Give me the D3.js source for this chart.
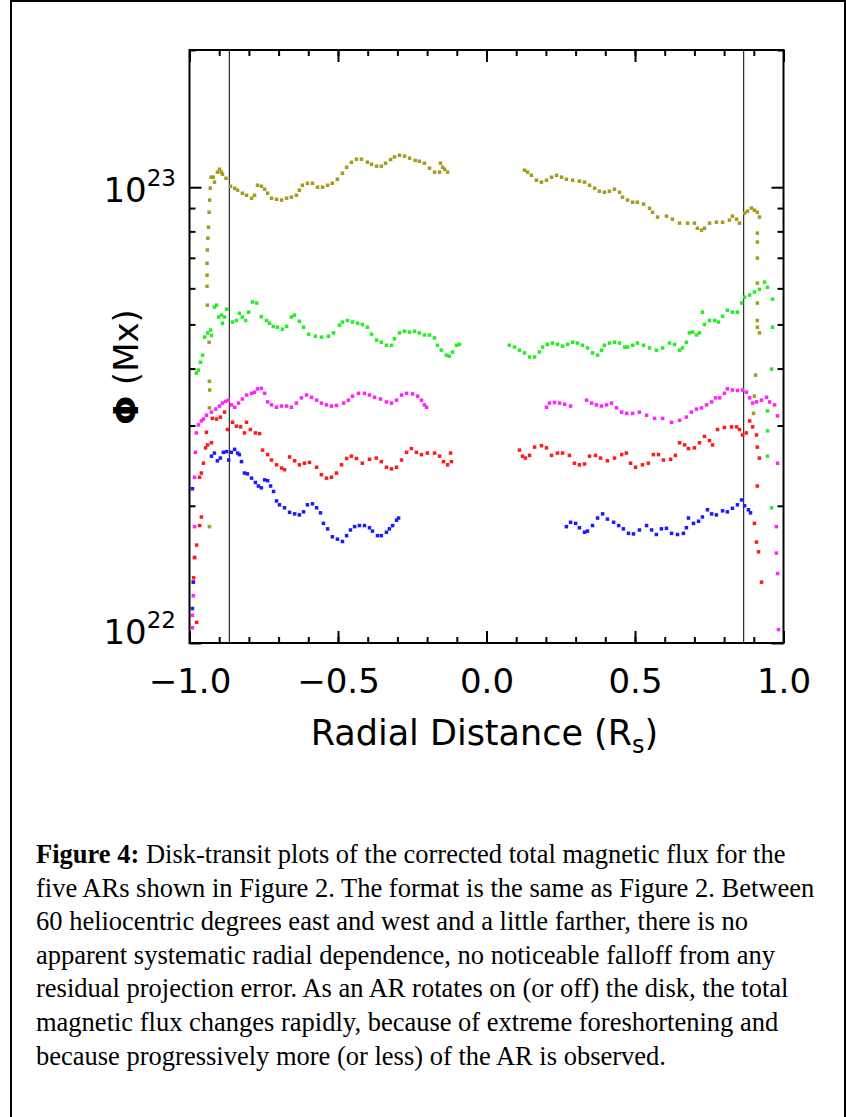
<!DOCTYPE html>
<html>
<head>
<meta charset="utf-8">
<script src="https://cdn.jsdelivr.net/npm/d3@7"></script>
<style>
  body { margin: 0; background: #fff; }
</style>
</head>
<body>
<svg id="fig"></svg>
<script>
// flux in units of 1e22 Mx, x in solar radii
const olive = [
  [-0.933,1.80],[-0.933,3.28],[-0.932,3.59],[-0.933,3.75],[-0.934,4.57],[-0.940,5.51],[-0.941,6.06],[-0.941,6.41],
  [-0.941,6.81],[-0.940,7.28],[-0.938,7.73],[-0.936,8.17],[-0.934,8.81],[-0.932,9.37],[-0.930,9.95],[-0.927,10.52],
  [-0.920,10.52],[-0.916,10.26],[-0.906,10.79],[-0.899,10.95],[-0.893,10.79],[-0.889,10.68],[-0.877,10.46],
  [-0.862,10.05],[-0.848,9.95],[-0.838,9.85],[-0.822,9.70],[-0.808,9.60],[-0.791,9.46],[-0.781,9.60],[-0.771,10.10],
  [-0.758,10.05],[-0.747,9.90],[-0.737,9.70],[-0.724,9.46],[-0.707,9.41],[-0.690,9.37],[-0.673,9.46],[-0.657,9.51],
  [-0.640,9.60],[-0.630,9.85],[-0.620,10.10],[-0.603,10.20],[-0.586,10.20],[-0.569,10.00],[-0.552,10.00],[-0.535,10.10],
  [-0.519,10.20],[-0.502,10.41],[-0.485,10.73],[-0.471,11.06],[-0.455,11.34],[-0.438,11.52],[-0.421,11.52],[-0.401,11.35],
  [-0.387,11.23],[-0.370,11.12],[-0.354,11.12],[-0.340,11.29],[-0.323,11.50],[-0.310,11.65],[-0.293,11.75],[-0.276,11.70],
  [-0.259,11.58],[-0.240,11.45],[-0.226,11.40],[-0.209,11.29],[-0.192,11.01],[-0.175,10.79],[-0.158,10.79],[-0.155,11.29],
  [-0.148,11.06],[-0.141,10.95],[-0.131,10.79],
  [0.128,10.90],[0.138,10.79],[0.151,10.62],[0.168,10.36],[0.185,10.26],[0.202,10.36],[0.219,10.52],[0.236,10.62],
  [0.253,10.52],[0.269,10.41],[0.290,10.36],[0.313,10.31],[0.330,10.26],[0.347,10.10],[0.364,9.95],[0.380,9.80],
  [0.397,9.75],[0.414,9.80],[0.431,9.90],[0.448,9.75],[0.458,9.51],[0.475,9.37],[0.492,9.27],[0.508,9.27],
  [0.529,9.18],[0.549,8.99],[0.559,8.81],[0.576,8.60],[0.606,8.64],[0.626,8.51],[0.650,8.34],[0.677,8.34],
  [0.700,8.34],[0.710,8.13],[0.724,8.05],[0.734,8.13],[0.751,8.34],[0.774,8.38],[0.795,8.38],[0.818,8.47],
  [0.828,8.64],[0.842,8.51],[0.852,8.34],[0.869,8.77],[0.879,8.86],[0.892,9.00],[0.902,8.90],[0.912,8.81],
  [0.919,8.60],[0.912,7.93],[0.912,7.58],[0.912,6.99],[0.912,6.16],[0.912,5.57],[0.912,5.10],[0.912,4.93],
  [0.919,4.79],[0.906,3.87],[0.902,3.48],[0.899,3.19]
];

const green = [
  [-0.977,3.91],[-0.970,3.97],[-0.963,4.13],[-0.956,4.28],[-0.949,4.69],[-0.939,4.79],[-0.929,4.86],[-0.926,4.73],
  [-0.916,5.46],[-0.909,5.51],[-0.902,5.19],[-0.892,5.24],[-0.889,5.03],[-0.882,5.19],[-0.875,5.40],
  [-0.855,5.06],[-0.842,5.10],[-0.832,5.29],[-0.822,5.19],[-0.811,5.10],[-0.801,5.32],[-0.788,5.60],[-0.774,5.57],
  [-0.758,5.20],[-0.741,5.10],[-0.731,5.03],[-0.718,4.95],[-0.704,4.93],[-0.687,4.88],[-0.673,4.95],[-0.657,5.19],
  [-0.647,5.24],[-0.630,5.08],[-0.616,4.93],[-0.599,4.76],[-0.576,4.71],[-0.556,4.69],[-0.532,4.71],[-0.515,4.79],
  [-0.495,4.98],[-0.485,5.06],[-0.468,5.10],[-0.451,5.06],[-0.434,5.03],[-0.418,5.00],[-0.401,4.93],[-0.387,4.76],
  [-0.370,4.62],[-0.354,4.57],[-0.337,4.50],[-0.320,4.50],[-0.310,4.65],[-0.293,4.79],[-0.276,4.83],[-0.259,4.81],
  [-0.242,4.83],[-0.226,4.79],[-0.209,4.74],[-0.192,4.74],[-0.175,4.67],[-0.165,4.50],[-0.152,4.39],[-0.135,4.28],
  [-0.125,4.26],[-0.114,4.35],[-0.101,4.50],[-0.091,4.52],
  [0.077,4.50],[0.094,4.46],[0.111,4.39],[0.128,4.33],[0.145,4.24],[0.162,4.24],[0.178,4.35],[0.189,4.46],
  [0.205,4.52],[0.222,4.55],[0.239,4.52],[0.256,4.48],[0.273,4.52],[0.290,4.57],[0.306,4.55],[0.323,4.50],
  [0.340,4.44],[0.357,4.33],[0.374,4.28],[0.387,4.39],[0.397,4.50],[0.414,4.55],[0.431,4.57],[0.448,4.55],
  [0.465,4.46],[0.475,4.46],[0.492,4.50],[0.508,4.55],[0.529,4.50],[0.549,4.44],[0.572,4.39],[0.593,4.44],
  [0.616,4.55],[0.633,4.52],[0.650,4.39],[0.660,4.44],[0.673,4.57],[0.683,4.79],[0.694,4.81],[0.707,4.74],
  [0.717,4.79],[0.727,5.32],[0.734,5.00],[0.751,5.10],[0.768,5.10],[0.781,5.06],[0.795,5.21],[0.811,5.37],
  [0.828,5.32],[0.845,5.32],[0.859,5.57],[0.869,5.74],[0.886,5.80],[0.902,5.89],[0.919,5.97],[0.936,6.19],
  [0.946,6.03],[0.963,5.68],[0.963,4.93],[0.960,3.99],[0.946,3.23],[0.946,2.92],[0.946,2.57],[0.960,1.98]
];

const magenta = [
  [-0.990,1.08],[-0.990,1.15],[-0.987,1.27],[-0.987,1.36],[-0.983,1.54],[-0.983,1.80],[-0.983,2.31],[-0.980,2.62],
  [-0.977,2.89],[-0.970,3.01],[-0.960,3.07],[-0.953,3.10],[-0.943,3.16],[-0.926,3.21],[-0.912,3.26],[-0.899,3.31],
  [-0.889,3.36],[-0.879,3.39],[-0.869,3.41],[-0.859,3.33],[-0.848,3.29],[-0.835,3.36],[-0.822,3.43],[-0.808,3.50],
  [-0.791,3.53],[-0.781,3.55],[-0.771,3.61],[-0.758,3.62],[-0.747,3.53],[-0.737,3.38],[-0.724,3.33],[-0.707,3.29],
  [-0.690,3.31],[-0.673,3.31],[-0.657,3.29],[-0.640,3.36],[-0.623,3.45],[-0.606,3.50],[-0.589,3.46],[-0.572,3.41],
  [-0.556,3.36],[-0.539,3.33],[-0.522,3.31],[-0.505,3.32],[-0.481,3.36],[-0.465,3.41],[-0.451,3.48],[-0.431,3.53],
  [-0.411,3.53],[-0.394,3.50],[-0.377,3.46],[-0.357,3.43],[-0.337,3.38],[-0.320,3.36],[-0.303,3.41],[-0.286,3.50],
  [-0.269,3.53],[-0.249,3.52],[-0.232,3.48],[-0.219,3.41],[-0.209,3.33],[-0.202,3.29],
  [0.202,3.29],[0.212,3.36],[0.229,3.37],[0.246,3.36],[0.263,3.34],[0.283,3.31],
  [0.337,3.41],[0.354,3.36],[0.370,3.33],[0.387,3.31],[0.404,3.33],[0.421,3.36],[0.438,3.28],[0.455,3.21],
  [0.472,3.19],[0.492,3.19],[0.515,3.21],[0.539,3.16],[0.566,3.11],[0.593,3.11],[0.623,3.05],[0.650,3.08],
  [0.673,3.13],[0.690,3.21],[0.707,3.26],[0.724,3.28],[0.741,3.33],[0.758,3.38],[0.771,3.45],[0.785,3.45],
  [0.801,3.53],[0.811,3.61],[0.828,3.59],[0.845,3.58],[0.862,3.59],[0.875,3.55],[0.886,3.45],[0.896,3.36],
  [0.909,3.38],[0.926,3.41],[0.943,3.46],[0.953,3.38],[0.970,3.33],[0.980,3.15],[0.980,2.48],[0.976,1.80],
  [0.976,1.575],[0.980,1.42],[0.983,1.07]
];

const red = [
  [-0.976,1.11],[-0.986,1.39],[-0.983,1.54],[-0.976,1.64],[-0.966,1.81],[-0.960,1.89],[-0.966,2.31],[-0.960,2.36],
  [-0.953,2.48],[-0.946,2.68],[-0.939,2.72],[-0.943,2.90],[-0.926,2.75],[-0.923,3.11],[-0.909,3.10],[-0.896,3.13],
  [-0.882,3.21],[-0.872,2.94],[-0.855,3.05],[-0.842,2.99],[-0.828,2.98],[-0.815,2.89],[-0.808,3.05],[-0.795,2.94],
  [-0.778,2.89],[-0.764,2.88],[-0.754,2.65],[-0.737,2.59],[-0.724,2.52],[-0.707,2.46],[-0.690,2.42],[-0.680,2.40],
  [-0.663,2.56],[-0.646,2.51],[-0.630,2.46],[-0.613,2.48],[-0.596,2.49],[-0.572,2.43],[-0.556,2.34],[-0.539,2.30],
  [-0.522,2.31],[-0.505,2.36],[-0.488,2.46],[-0.471,2.54],[-0.455,2.57],[-0.438,2.54],[-0.418,2.48],[-0.394,2.53],
  [-0.371,2.545],[-0.354,2.50],[-0.337,2.43],[-0.320,2.41],[-0.303,2.43],[-0.286,2.52],[-0.269,2.62],[-0.253,2.67],
  [-0.236,2.62],[-0.219,2.59],[-0.199,2.61],[-0.175,2.61],[-0.158,2.57],[-0.145,2.50],[-0.131,2.46],[-0.121,2.61],
  [-0.118,2.50],
  [0.111,2.65],[0.121,2.57],[0.131,2.545],[0.145,2.58],[0.162,2.69],[0.185,2.71],[0.202,2.68],[0.219,2.58],
  [0.239,2.61],[0.256,2.61],[0.279,2.58],[0.296,2.48],[0.313,2.46],[0.330,2.47],[0.347,2.57],[0.367,2.58],
  [0.384,2.545],[0.407,2.51],[0.431,2.545],[0.455,2.59],[0.471,2.61],[0.485,2.48],[0.502,2.43],[0.525,2.46],
  [0.545,2.48],[0.562,2.59],[0.579,2.59],[0.596,2.52],[0.620,2.53],[0.636,2.58],[0.650,2.75],[0.667,2.72],
  [0.680,2.67],[0.700,2.68],[0.717,2.75],[0.734,2.84],[0.751,2.78],[0.761,2.72],[0.778,2.94],[0.801,2.97],
  [0.825,2.98],[0.842,2.98],[0.852,2.94],[0.862,2.86],[0.875,2.89],[0.886,3.07],[0.896,2.98],[0.909,2.86],
  [0.912,2.69],[0.919,2.545],[0.912,2.21],[0.902,1.83],[0.909,1.665],[0.916,1.585],[0.926,1.36]
];

const blue = [
  [-0.990,2.18],[-0.987,1.36],[-0.990,1.19],
  [-0.926,2.57],[-0.916,2.61],[-0.906,2.51],[-0.896,2.545],[-0.886,2.62],[-0.875,2.63],[-0.868,2.52],[-0.859,2.62],
  [-0.848,2.66],[-0.838,2.61],[-0.832,2.59],[-0.825,2.50],[-0.815,2.36],[-0.805,2.35],[-0.791,2.30],[-0.778,2.25],
  [-0.768,2.21],[-0.758,2.19],[-0.747,2.28],[-0.737,2.27],[-0.727,2.21],[-0.717,2.15],[-0.707,2.05],[-0.697,2.01],
  [-0.680,1.98],[-0.663,1.935],[-0.646,1.92],[-0.630,1.91],[-0.616,1.94],[-0.603,2.01],[-0.586,2.02],[-0.572,1.98],
  [-0.559,1.93],[-0.549,1.83],[-0.535,1.78],[-0.519,1.71],[-0.502,1.69],[-0.485,1.67],[-0.471,1.72],[-0.458,1.77],
  [-0.444,1.80],[-0.428,1.81],[-0.411,1.81],[-0.394,1.79],[-0.384,1.76],[-0.367,1.72],[-0.354,1.72],[-0.337,1.75],
  [-0.327,1.78],[-0.316,1.81],[-0.303,1.86],[-0.296,1.88],
  [0.269,1.80],[0.283,1.84],[0.300,1.83],[0.313,1.79],[0.330,1.75],[0.340,1.76],[0.357,1.81],[0.374,1.88],
  [0.391,1.92],[0.407,1.87],[0.428,1.84],[0.445,1.81],[0.461,1.78],[0.478,1.74],[0.495,1.735],[0.515,1.77],
  [0.539,1.81],[0.556,1.77],[0.572,1.73],[0.589,1.78],[0.606,1.785],[0.623,1.74],[0.643,1.73],[0.663,1.74],
  [0.673,1.79],[0.680,1.88],[0.697,1.83],[0.714,1.85],[0.727,1.89],[0.744,1.96],[0.758,1.92],[0.774,1.91],
  [0.795,1.95],[0.811,1.94],[0.828,1.975],[0.845,2.01],[0.859,2.06],[0.869,2.00],[0.882,1.96],[0.889,1.93]
];

const seriesColors = ["#a39b1e", "#22ee22", "#ff22ff", "#ff1a1a", "#1a1aff"];
const xMajor = [-1, -0.5, 0, 0.5, 1];
const xMinor = d3.range(-10, 11).map(i => i / 10);
const yMajor = [1e22, 1e23];
const yMinor = [2e22, 3e22, 4e22, 5e22, 6e22, 7e22, 8e22, 9e22, 2e23];
const limbLines = [-0.866, 0.866];   // 60 degrees east / west

const captionLines = [
  " Disk-transit plots of the corrected total magnetic flux for the",
  "five ARs shown in Figure 2. The format is the same as Figure 2. Between",
  "60 heliocentric degrees east and west and a little farther, there is no",
  "apparent systematic radial dependence, no noticeable falloff from any",
  "residual projection error. As an AR rotates on (or off) the disk, the total",
  "magnetic flux changes rapidly, because of extreme foreshortening and",
  "because progressively more (or less) of the AR is observed."
];

const W = 846, H = 1117;
const FONT = "'DejaVu Sans', sans-serif";

const svg = d3.select("#fig").attr("width", W).attr("height", H);
svg.append("rect").attr("width", W).attr("height", H).attr("fill", "#fff");

// outer border of the figure (open at the bottom)
svg.append("path")
  .attr("d", "M11,1117 V1 H845 V1117")
  .attr("fill", "none").attr("stroke", "#000").attr("stroke-width", 2);

const x = d3.scaleLinear().domain([-1, 1]).range([189.5, 783.5]);
const y = d3.scaleLog().domain([1e22, 2e23]).range([643, 50]);

const plot = svg.append("g");

// limb lines
plot.selectAll(".limb")
  .data(limbLines)
  .join("line")
   .attr("class", "limb")
   .attr("x1", d => x(d)).attr("x2", d => x(d))
   .attr("y1", y.range()[1]).attr("y2", y.range()[0])
   .attr("stroke", "#000").attr("stroke-width", 1);

// data points
[olive, green, magenta, red, blue].forEach((pts, i) => {
  plot.append("g")
    .selectAll("rect")
    .data(pts)
    .join("rect")
     .attr("x", d => x(d[0]) - 1.75)
     .attr("y", d => y(d[1] * 1e22) - 1.75)
     .attr("width", 3.5).attr("height", 3.5)
     .attr("fill", seriesColors[i]);
});

// axes (ticks inward)
const fmt = d3.format(".1f");
const styleAxis = g => {
  g.select(".domain").remove();
  g.selectAll(".tick line").attr("stroke", "#000").attr("stroke-width", 2);
};

svg.append("g").attr("transform", `translate(0,${y.range()[0]})`)
  .call(d3.axisBottom(x).tickValues(xMinor).tickSize(-6).tickFormat(""))
  .call(styleAxis);
svg.append("g").attr("transform", `translate(0,${y.range()[0]})`)
  .call(d3.axisBottom(x).tickValues(xMajor).tickSize(-12).tickPadding(26).tickFormat(fmt))
  .call(styleAxis)
  .call(g => g.selectAll("text").attr("font-family", FONT).attr("font-size", 34).attr("fill", "#000"));

svg.append("g").attr("transform", `translate(0,${y.range()[1]})`)
  .call(d3.axisTop(x).tickValues(xMinor).tickSize(-6).tickFormat(""))
  .call(styleAxis);
svg.append("g").attr("transform", `translate(0,${y.range()[1]})`)
  .call(d3.axisTop(x).tickValues(xMajor).tickSize(-12).tickFormat(""))
  .call(styleAxis);

[["axisLeft", x.range()[0]], ["axisRight", x.range()[1]]].forEach(([fn, px]) => {
  svg.append("g").attr("transform", `translate(${px},0)`)
    .call(d3[fn](y).tickValues(yMinor).tickSize(-6).tickFormat(""))
    .call(styleAxis);
  svg.append("g").attr("transform", `translate(${px},0)`)
    .call(d3[fn](y).tickValues(yMajor).tickSize(-12).tickFormat(""))
    .call(styleAxis);
});

// frame
svg.append("rect")
  .attr("x", x.range()[0]).attr("y", y.range()[1])
  .attr("width", x.range()[1] - x.range()[0]).attr("height", y.range()[0] - y.range()[1])
  .attr("fill", "none").attr("stroke", "#000").attr("stroke-width", 2);

// y tick labels 10^n
const yLab = svg.append("g").attr("font-family", FONT).attr("fill", "#000");
yMajor.forEach(v => {
  const t = yLab.append("text")
    .attr("x", 176)
    .attr("y", Math.min(y(v) + 15, y.range()[0] + 1))
    .attr("text-anchor", "end")
    .attr("font-size", 34);
  t.append("tspan").text("10");
  t.append("tspan").attr("dy", -16).attr("font-size", 23).text(Math.round(Math.log10(v)));
});

// axis titles
const xt = svg.append("text")
  .attr("x", (x.range()[0] + x.range()[1]) / 2 - 2).attr("y", 745)
  .attr("text-anchor", "middle")
  .attr("font-family", FONT).attr("font-size", 35).attr("fill", "#000");
xt.append("tspan").text("Radial Distance (R");
xt.append("tspan").attr("font-size", 24).attr("dy", 8).text("s");
xt.append("tspan").attr("dy", -8).text(")");

const yt = svg.append("text")
  .attr("transform", "translate(126,367) rotate(-90)")
  .attr("text-anchor", "middle").attr("dominant-baseline", "central")
  .attr("font-family", FONT).attr("font-size", 34).attr("fill", "#000");
yt.append("tspan").attr("font-weight", "bold").text("\u03A6");
yt.append("tspan").text(" (Mx)");

// caption
const cap = svg.append("g")
  .attr("font-family", "'Liberation Serif', 'Times New Roman', serif")
  .attr("font-size", 26.5).attr("fill", "#000");
captionLines.forEach((line, i) => {
  const t = cap.append("text").attr("x", 36).attr("y", 863 + i * 33.6);
  if (i === 0) t.append("tspan").attr("font-weight", "bold").text("Figure 4:");
  t.append("tspan").text(line);
});
</script>
</body>
</html>
